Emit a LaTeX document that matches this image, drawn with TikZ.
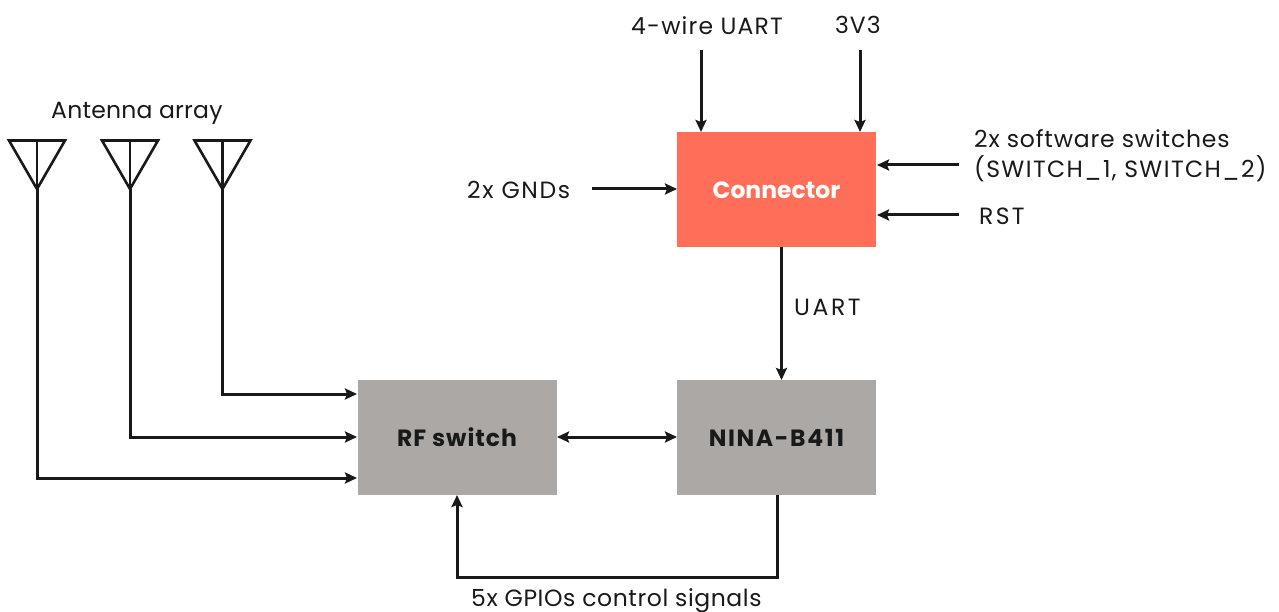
\documentclass[tikz,border=0pt]{standalone}
\usepackage{fontspec}
\setmainfont{Poppins}
\usetikzlibrary{arrows.meta}
\definecolor{boxgrey}{HTML}{ACA8A6}
\definecolor{boxred}{HTML}{FF6E59}
\newcommand{\spc}[1]{\addfontfeature{LetterSpace=#1}}
\tikzset{
 x=1pt,y=-1pt,
 wire/.style={line width=3pt,black!90,-{Stealth[length=12pt,width=11pt,inset=2pt]}},
 twoway/.style={line width=3pt,black!90,{Stealth[length=12pt,width=11pt,inset=2pt]}-{Stealth[length=12pt,width=11pt,inset=2pt]}},
 ant/.style={line width=2.6pt,black!90,line join=miter},
 bx/.style={minimum width=199pt,minimum height=115pt,inner sep=0pt,font=\fontsize{23.5}{25}\selectfont\bfseries},
 lab/.style={inner sep=0pt,font=\fontsize{23.5}{25}\selectfont,text=black!90,anchor=base west,align=left},
}
\begin{document}
\begin{tikzpicture}
\useasboundingbox (0,0) rectangle (1279,612);
\node[bx,fill=boxred,text=white] (conn) at (776.5,190) {Connector};
\node[bx,fill=boxgrey,text=black!90] (rf) at (457,437.5) {\spc{4}RF switch};
\node[bx,fill=boxgrey,text=black!90] (nina) at (776.5,437.5) {\spc{7}NINA-B411};
\node[lab] (tu) at (631,35) {\spc{5}4-wire UART};
\node[lab] (t3) at (835,34) {\spc{4}3V3};
\node[lab] (tg) at (467,199) {\spc{7}2x GNDs};
\node[lab] (ts) at (974,148) {\spc{3.5}2x software switches};
\node[lab] (ts2) at (974,178) {\spc{6}(SWITCH\_1, SWITCH\_2)};
\node[lab] (tr) at (979,225) {\spc{10}RST};
\node[lab] (tua) at (794,315) {\spc{11}UART};
\node[lab] (taa) at (51,119) {\spc{1}Antenna array};
\node[lab] (tg5) at (471,606) {\spc{2.5}5x GPIOs control signals};
\coordinate (a1) at (701,50); \coordinate (a2) at (701,132);
\coordinate (b1) at (860,50); \coordinate (b2) at (860,132);
\coordinate (c1) at (592,189); \coordinate (c2) at (677,189);
\coordinate (d1) at (959,165); \coordinate (d2) at (877,165);
\coordinate (e1) at (959,215); \coordinate (e2) at (877,215);
\draw[wire] (a1)--(a2);
\draw[wire] (b1)--(b2);
\draw[wire] (c1)--(c2);
\draw[wire] (d1)--(d2);
\draw[wire] (e1)--(e2);
\draw[wire] (781.5,247)--(781.5,380);
\draw[twoway] (557,437)--(677,437);
\draw[wire] (777,495)--(777,577)--(457,577)--(457,495);
\foreach \n/\x/\y in {p/37/478,q/130/437,r/222.5/394}{
 \draw[ant] (\x-28,140.5)--(\x+28,140.5)--(\x,189)--cycle;
 \draw[ant] (\x,140.5)--(\x,189);
 \draw[wire] (\x,189)--(\x,\y)--(357,\y);
}
\end{tikzpicture}
\end{document}
